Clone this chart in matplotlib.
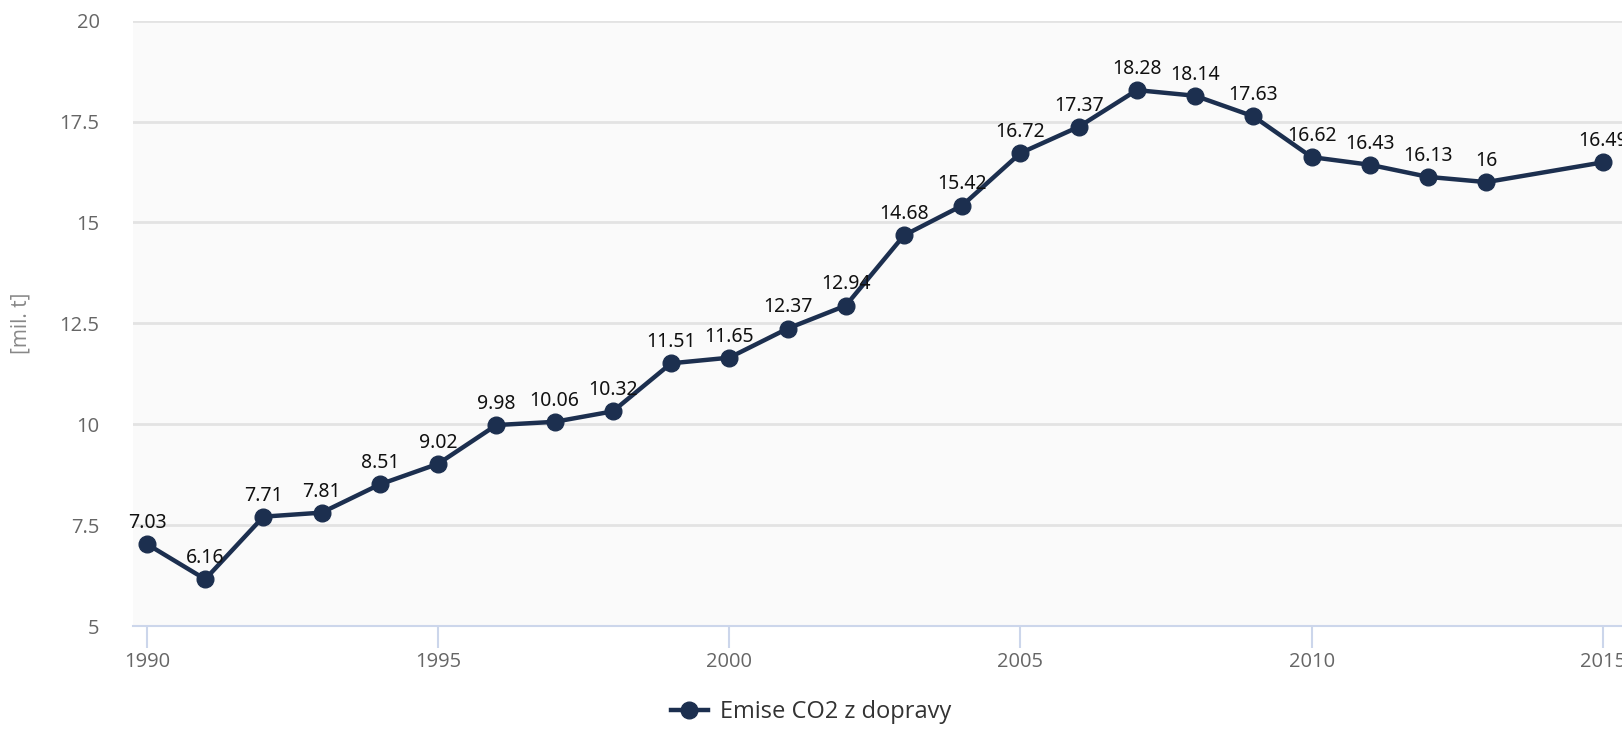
import matplotlib.pyplot as plt
from matplotlib.lines import Line2D

# emise CO2 z dopravy [mil. t] (2014 chybi)
years = [1990, 1991, 1992, 1993, 1994, 1995, 1996, 1997, 1998, 1999, 2000, 2001,
         2002, 2003, 2004, 2005, 2006, 2007, 2008, 2009, 2010, 2011, 2012, 2013, 2015]
emise = [7.03, 6.16, 7.71, 7.81, 8.51, 9.02, 9.98, 10.06, 10.32, 11.51, 11.65, 12.37,
         12.94, 14.68, 15.42, 16.72, 17.37, 18.28, 18.14, 17.63, 16.62, 16.43, 16.13, 16, 16.49]
labels = ['7.03', '6.16', '7.71', '7.81', '8.51', '9.02', '9.98', '10.06', '10.32', '11.51',
          '11.65', '12.37', '12.94', '14.68', '15.42', '16.72', '17.37', '18.28', '18.14',
          '17.63', '16.62', '16.43', '16.13', '16', '16.49']
xticks = [1990, 1995, 2000, 2005, 2010, 2015]
yticks = [5, 7.5, 10, 12.5, 15, 17.5, 20]
ytick_labels = ['5', '7.5', '10', '12.5', '15', '17.5', '20']

col = '#1c2f4f'
plt.rcParams['font.family'] = ['Open Sans', 'DejaVu Sans']

fig = plt.figure(figsize=(16.22, 7.5), dpi=100)
ax = fig.add_axes([0.082, 0.1653, 0.918, 0.8071])
ax.set_facecolor('#fafafa')

ax.plot(years, emise, color=col, lw=3.2, marker='o', ms=12, zorder=3, clip_on=False)
for x, y, t in zip(years, emise, labels):
    ax.annotate(t, (x, y), xytext=(0, 8), textcoords='offset points', ha='center',
                va='bottom', fontsize=14, color='#111111', family=['Noto Sans', 'DejaVu Sans'])

ax.set_xlim(1989.76, 2015.33)
ax.set_ylim(5, 20)
ax.set_xticks(xticks)
ax.set_yticks(yticks)
ax.set_yticklabels(ytick_labels)
ax.grid(axis='y', color='#e3e3e3', lw=2)
ax.set_axisbelow(True)
for s in ['top', 'right', 'left']:
    ax.spines[s].set_visible(False)
ax.spines['bottom'].set_color('#ccd6eb')
ax.spines['bottom'].set_linewidth(1.5)
ax.tick_params(axis='x', length=16, width=1.5, color='#ccd6eb', labelcolor='#666666',
               labelsize=14.5, pad=3)
ax.tick_params(axis='y', length=0, labelcolor='#666666', labelsize=14.5, pad=24)
ax.set_ylabel('[mil. t]', color='#888888', fontsize=15, labelpad=20)

h = Line2D([], [], color=col, lw=3.2, marker='o', ms=12)
fig.legend([h], ['Emise CO2 z dopravy'], loc='center', bbox_to_anchor=(0.5, 0.05),
           frameon=False, fontsize=17, labelcolor='#333333', handlelength=1.6,
           handletextpad=0.5)

fig.savefig('out.png')
